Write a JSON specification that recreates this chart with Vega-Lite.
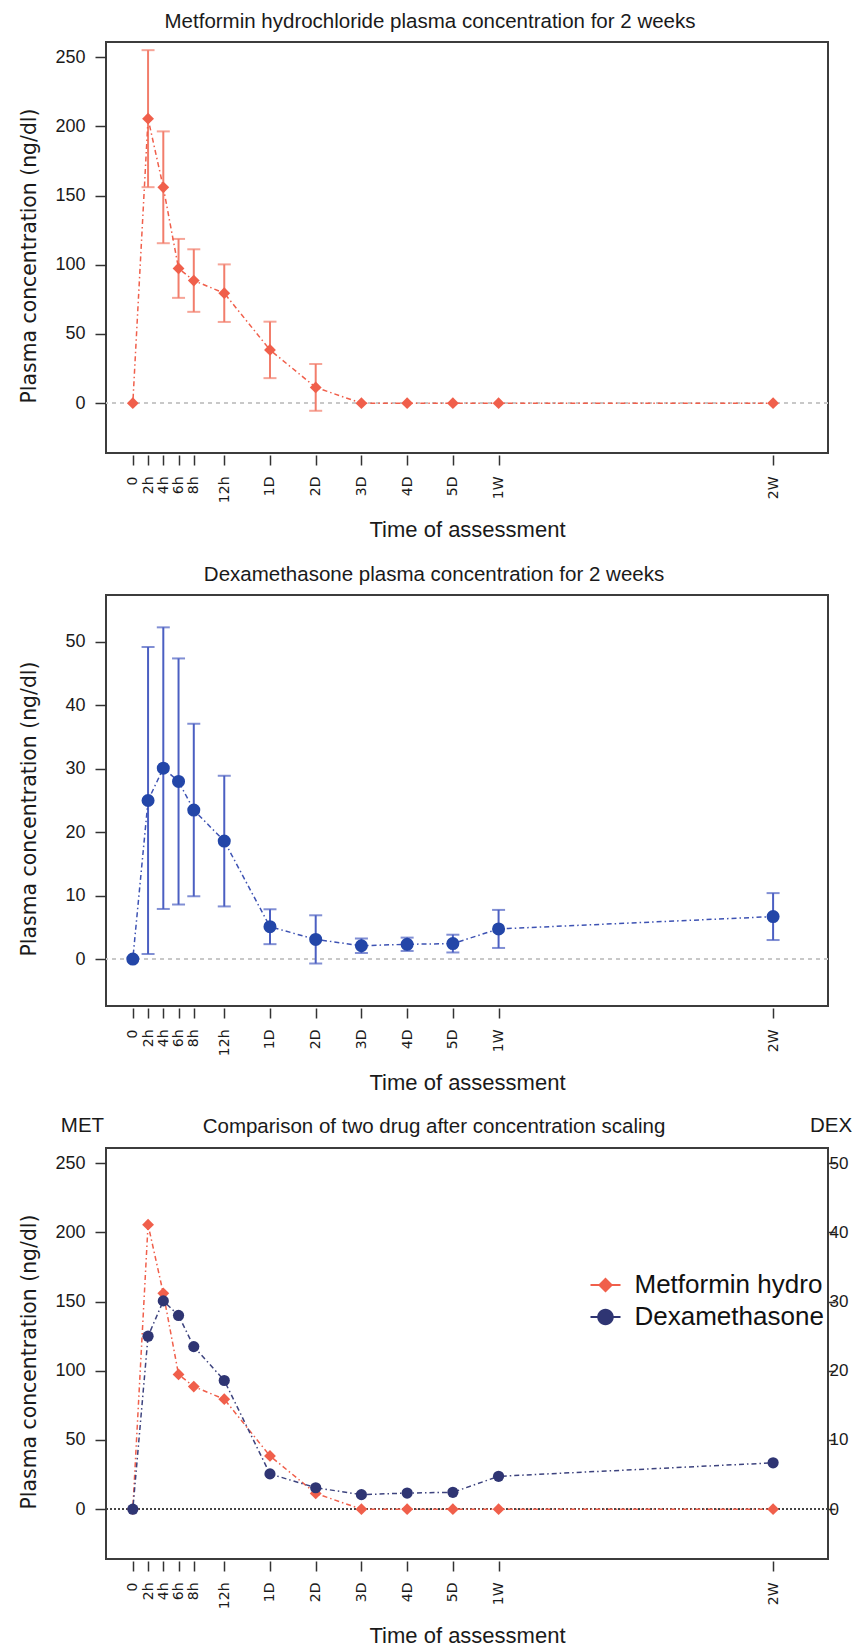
{
  "$schema": "https://vega.github.io/schema/vega-lite/v6.json",
  "padding": {"left": 18, "top": 10, "right": 0, "bottom": 0},
  "datasets": {
    "pk": [
      {"hours": 0, "met": 0, "met_sd": null, "dex": 0, "dex_sd": null},
      {"hours": 2, "met": 205.6, "met_sd": 49.5, "dex": 25.0, "dex_sd": 24.2},
      {"hours": 4, "met": 156.0, "met_sd": 40.4, "dex": 30.1, "dex_sd": 22.2},
      {"hours": 6, "met": 97.4, "met_sd": 21.3, "dex": 28.0, "dex_sd": 19.4},
      {"hours": 8, "met": 88.6, "met_sd": 22.6, "dex": 23.5, "dex_sd": 13.6},
      {"hours": 12, "met": 79.5, "met_sd": 20.8, "dex": 18.6, "dex_sd": 10.3},
      {"hours": 24, "met": 38.5, "met_sd": 20.4, "dex": 5.1, "dex_sd": 2.75},
      {"hours": 48, "met": 11.4, "met_sd": 16.9, "dex": 3.1, "dex_sd": 3.8},
      {"hours": 72, "met": 0, "met_sd": null, "dex": 2.1, "dex_sd": 1.15},
      {"hours": 96, "met": 0, "met_sd": null, "dex": 2.33, "dex_sd": 1.05},
      {"hours": 120, "met": 0, "met_sd": null, "dex": 2.44, "dex_sd": 1.4},
      {"hours": 168, "met": 0, "met_sd": null, "dex": 4.75, "dex_sd": 3.0},
      {"hours": 336, "met": 0, "met_sd": null, "dex": 6.7, "dex_sd": 3.7}
    ],
    "legend": [
      {"series": "Metformin hydrochloride"},
      {"series": "Dexamethasone"}
    ]
  },
  "bounds": "flush",
  "spacing": 142,
  "resolve": {"legend": {"color": "independent", "shape": "independent"}},
  "vconcat": [
    {
      "width": 722,
      "height": 411,
      "title": {"text": "Metformin hydrochloride plasma concentration for 2 weeks", "dx": -37, "offset": -6, "baseline": "alphabetic"},
      "data": {"name": "pk"},
      "layer": [
        {
          "mark": {"type": "rule", "color": "#c8c8c8", "strokeDash": [4, 4], "strokeWidth": 1.5},
          "encoding": {"y": {"datum": 0, "type": "quantitative", "scale": {"domain": [-36, 261], "nice": false, "zero": false}}}
        },
        {
          "transform": [{"filter": "datum.met_sd > 0"}],
          "mark": {"type": "errorbar", "color": "#F27D6B", "ticks": true, "size": 13, "thickness": 2},
          "encoding": {
            "x": {"field": "hours", "type": "quantitative", "title": "Time of assessment", "scale": {"domain": [-3.52, 12, 24, 120, 168, 369.6], "range": [0, 118.26, 163.98, 346.86, 392.58, 722], "nice": false, "zero": false}, "axis": {"values": [0, 2, 4, 6, 8, 12, 24, 48, 72, 96, 120, 168, 336], "labelExpr": "datum.value == 0 ? '0' : datum.value < 24 ? datum.value + 'h' : datum.value == 168 ? '1W' : datum.value == 336 ? '2W' : (datum.value / 24) + 'D'"}},
            "y": {"field": "met", "type": "quantitative", "title": "Plasma concentration (ng/dl)", "scale": {"domain": [-36, 261], "nice": false, "zero": false}, "axis": {"values": [0, 50, 100, 150, 200, 250]}},
            "yError": {"field": "met_sd"}
          }
        },
        {
          "mark": {"type": "line", "color": "#F05F4B", "strokeDash": [1.5, 3, 5, 3], "strokeWidth": 1.5},
          "encoding": {
            "x": {"field": "hours", "type": "quantitative", "title": "Time of assessment", "scale": {"domain": [-3.52, 12, 24, 120, 168, 369.6], "range": [0, 118.26, 163.98, 346.86, 392.58, 722], "nice": false, "zero": false}},
            "y": {"field": "met", "type": "quantitative", "title": "Plasma concentration (ng/dl)", "scale": {"domain": [-36, 261], "nice": false, "zero": false}}
          }
        },
        {
          "mark": {"type": "point", "shape": "diamond", "filled": true, "size": 140, "color": "#F05F4B", "opacity": 1},
          "encoding": {
            "x": {"field": "hours", "type": "quantitative", "title": "Time of assessment", "scale": {"domain": [-3.52, 12, 24, 120, 168, 369.6], "range": [0, 118.26, 163.98, 346.86, 392.58, 722], "nice": false, "zero": false}},
            "y": {"field": "met", "type": "quantitative", "title": "Plasma concentration (ng/dl)", "scale": {"domain": [-36, 261], "nice": false, "zero": false}}
          }
        }
      ]
    },
    {
      "width": 722,
      "height": 411,
      "title": {"text": "Dexamethasone plasma concentration for 2 weeks", "dx": -33, "offset": -6, "baseline": "alphabetic"},
      "data": {"name": "pk"},
      "layer": [
        {
          "mark": {"type": "rule", "color": "#c8c8c8", "strokeDash": [4, 4], "strokeWidth": 1.5},
          "encoding": {"y": {"datum": 0, "type": "quantitative", "scale": {"domain": [-7.4, 57.4], "nice": false, "zero": false}}}
        },
        {
          "transform": [{"filter": "datum.dex_sd > 0"}],
          "mark": {"type": "errorbar", "color": "#4B5FC2", "ticks": true, "size": 13, "thickness": 2},
          "encoding": {
            "x": {"field": "hours", "type": "quantitative", "title": "Time of assessment", "scale": {"domain": [-3.52, 12, 24, 120, 168, 369.6], "range": [0, 118.26, 163.98, 346.86, 392.58, 722], "nice": false, "zero": false}, "axis": {"values": [0, 2, 4, 6, 8, 12, 24, 48, 72, 96, 120, 168, 336], "labelExpr": "datum.value == 0 ? '0' : datum.value < 24 ? datum.value + 'h' : datum.value == 168 ? '1W' : datum.value == 336 ? '2W' : (datum.value / 24) + 'D'"}},
            "y": {"field": "dex", "type": "quantitative", "title": "Plasma concentration (ng/dl)", "scale": {"domain": [-7.4, 57.4], "nice": false, "zero": false}, "axis": {"values": [0, 10, 20, 30, 40, 50]}},
            "yError": {"field": "dex_sd"}
          }
        },
        {
          "mark": {"type": "line", "color": "#3D52B3", "strokeDash": [1.5, 3, 5, 3], "strokeWidth": 1.5},
          "encoding": {
            "x": {"field": "hours", "type": "quantitative", "title": "Time of assessment", "scale": {"domain": [-3.52, 12, 24, 120, 168, 369.6], "range": [0, 118.26, 163.98, 346.86, 392.58, 722], "nice": false, "zero": false}},
            "y": {"field": "dex", "type": "quantitative", "title": "Plasma concentration (ng/dl)", "scale": {"domain": [-7.4, 57.4], "nice": false, "zero": false}}
          }
        },
        {
          "mark": {"type": "point", "shape": "circle", "filled": true, "size": 170, "color": "#2346A8", "opacity": 1},
          "encoding": {
            "x": {"field": "hours", "type": "quantitative", "title": "Time of assessment", "scale": {"domain": [-3.52, 12, 24, 120, 168, 369.6], "range": [0, 118.26, 163.98, 346.86, 392.58, 722], "nice": false, "zero": false}},
            "y": {"field": "dex", "type": "quantitative", "title": "Plasma concentration (ng/dl)", "scale": {"domain": [-7.4, 57.4], "nice": false, "zero": false}}
          }
        }
      ]
    },
    {
      "width": 722,
      "height": 411,
      "title": {"text": "Comparison of two drug after concentration scaling", "dx": -33, "offset": -38.4, "baseline": "alphabetic"},
      "data": {"name": "pk"},
      "layer": [
        {
          "layer": [
            {
              "mark": {"type": "rule", "color": "#444444", "strokeDash": [1.5, 2.5], "strokeWidth": 1.5},
              "encoding": {"y": {"datum": 0, "type": "quantitative", "scale": {"domain": [-36, 261], "nice": false, "zero": false}}}
            },
            {
              "mark": {"type": "line", "color": "#F05F4B", "strokeDash": [1.5, 3, 5, 3], "strokeWidth": 1.5},
              "encoding": {
                "x": {"field": "hours", "type": "quantitative", "title": "Time of assessment", "scale": {"domain": [-3.52, 12, 24, 120, 168, 369.6], "range": [0, 118.26, 163.98, 346.86, 392.58, 722], "nice": false, "zero": false}, "axis": {"values": [0, 2, 4, 6, 8, 12, 24, 48, 72, 96, 120, 168, 336], "labelExpr": "datum.value == 0 ? '0' : datum.value < 24 ? datum.value + 'h' : datum.value == 168 ? '1W' : datum.value == 336 ? '2W' : (datum.value / 24) + 'D'"}},
                "y": {"field": "met", "type": "quantitative", "title": "Plasma concentration (ng/dl)", "scale": {"domain": [-36, 261], "nice": false, "zero": false}, "axis": {"values": [0, 50, 100, 150, 200, 250], "orient": "left"}}
              }
            },
            {
              "mark": {"type": "point", "shape": "diamond", "filled": true, "size": 140, "color": "#F05F4B", "opacity": 1},
              "encoding": {
                "x": {"field": "hours", "type": "quantitative", "title": "Time of assessment", "scale": {"domain": [-3.52, 12, 24, 120, 168, 369.6], "range": [0, 118.26, 163.98, 346.86, 392.58, 722], "nice": false, "zero": false}},
                "y": {"field": "met", "type": "quantitative", "title": "Plasma concentration (ng/dl)", "scale": {"domain": [-36, 261], "nice": false, "zero": false}}
              }
            }
          ]
        },
        {
          "layer": [
            {
              "mark": {"type": "line", "color": "#3D437E", "strokeDash": [1.5, 3, 5, 3], "strokeWidth": 1.5},
              "encoding": {
                "x": {"field": "hours", "type": "quantitative", "title": "MET", "scale": {"domain": [-3.52, 12, 24, 120, 168, 369.6], "range": [0, 118.26, 163.98, 346.86, 392.58, 722], "nice": false, "zero": false}, "axis": {"orient": "top", "labels": false, "ticks": false, "domain": false}},
                "y": {"field": "dex", "type": "quantitative", "title": "DEX", "scale": {"domain": [-7.2, 52.2], "nice": false, "zero": false}, "axis": {"orient": "right", "values": [0, 10, 20, 30, 40, 50]}}
              }
            },
            {
              "mark": {"type": "point", "shape": "circle", "filled": true, "size": 125, "color": "#2F3573", "opacity": 1},
              "encoding": {
                "x": {"field": "hours", "type": "quantitative", "title": "MET", "scale": {"domain": [-3.52, 12, 24, 120, 168, 369.6], "range": [0, 118.26, 163.98, 346.86, 392.58, 722], "nice": false, "zero": false}},
                "y": {"field": "dex", "type": "quantitative", "title": "DEX", "scale": {"domain": [-7.2, 52.2], "nice": false, "zero": false}}
              }
            }
          ]
        },
        {
          "data": {"name": "legend"},
          "transform": [{"filter": "false"}],
          "mark": {"type": "point", "filled": true, "opacity": 1},
          "encoding": {
            "color": {"field": "series", "type": "nominal", "scale": {"domain": ["Metformin hydrochloride", "Dexamethasone"], "range": ["#F05F4B", "#2F3573"]},
              "legend": {"title": null, "orient": "none", "legendX": 484.5, "legendY": 122, "symbolSize": 900, "symbolStrokeWidth": 0, "labelFont": "Liberation Sans", "labelFontSize": 26, "labelColor": "#111111", "labelOffset": 14, "rowPadding": 4, "labelLimit": 400, "padding": 0, "labelExpr": "datum.label == 'Metformin hydrochloride' ? 'Metformin hydro' : datum.label"}},
            "shape": {"field": "series", "type": "nominal", "scale": {"domain": ["Metformin hydrochloride", "Dexamethasone"], "range": ["M-1,-0.065H1V0.065H-1Z M-0.5,0L0,-0.5L0.5,0L0,0.5Z", "M-1,-0.065H1V0.065H-1Z M0.55,0A0.55,0.55 0 1,1 -0.55,0A0.55,0.55 0 1,1 0.55,0Z"]},
              "legend": {"title": null, "orient": "none", "legendX": 484.5, "legendY": 122, "symbolSize": 900, "symbolStrokeWidth": 0, "labelFont": "Liberation Sans", "labelFontSize": 26, "labelColor": "#111111", "labelOffset": 14, "rowPadding": 4, "labelLimit": 400, "padding": 0, "labelExpr": "datum.label == 'Metformin hydrochloride' ? 'Metformin hydro' : datum.label"}}
          }
        }
      ],
      "resolve": {"scale": {"y": "independent"}, "axis": {"x": "independent"}}
    }
  ],
  "config": {
    "background": "white",
    "font": "Liberation Sans",
    "view": {"stroke": "#3c3c3c", "strokeWidth": 2},
    "title": {"font": "Liberation Sans", "fontSize": 20.5, "fontWeight": "normal", "color": "#1a1a1a", "anchor": "middle"},
    "axis": {"grid": false, "domain": false, "labelFont": "Liberation Sans", "labelColor": "#1a1a1a", "titleFont": "Liberation Sans", "titleColor": "#1a1a1a", "titleFontWeight": "normal", "tickColor": "#333333", "tickWidth": 1.5},
    "axisBottom": {"offset": 2, "tickSize": 10, "labelAngle": 270, "labelFont": "DejaVu Sans", "labelFontSize": 14, "labelPadding": 11, "labelOverlap": false, "labelFlush": false, "labelBound": false, "titleFontSize": 22, "titleY": 81.5, "titleBaseline": "alphabetic"},
    "axisLeft": {"tickSize": 11, "labelPadding": 10, "labelFontSize": 18, "titleFont": "DejaVu Sans", "titleFontSize": 20.4, "titleAngle": 270, "titleX": -77, "titleY": 213.5, "titleAlign": "center", "titleBaseline": "middle"},
    "axisRight": {"tickSize": 7, "labelPadding": -6, "labelFontSize": 17, "titleAngle": 0, "titleX": 2.5, "titleY": -16.6, "titleAlign": "center", "titleBaseline": "alphabetic", "titleFontSize": 20.5},
    "axisTop": {"titleAngle": 0, "titleX": -24, "titleY": -16.6, "titleAlign": "center", "titleBaseline": "alphabetic", "titleFontSize": 20.5}
  }
}
